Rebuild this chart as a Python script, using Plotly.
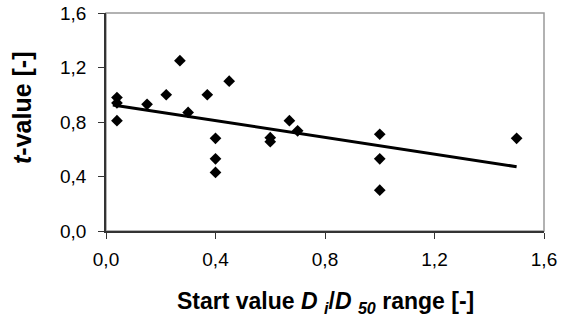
import plotly.graph_objects as go

x_vals = [0.04, 0.04, 0.04, 0.15, 0.22, 0.27, 0.30, 0.37, 0.40, 0.40, 0.40, 0.45,
          0.60, 0.60, 0.67, 0.70, 1.00, 1.00, 1.00, 1.50]
t_vals = [0.81, 0.94, 0.98, 0.93, 1.00, 1.25, 0.87, 1.00, 0.68, 0.53, 0.43, 1.10,
          0.685, 0.655, 0.81, 0.735, 0.71, 0.53, 0.30, 0.68]
trend_x = [0.025, 1.50]
trend_y = [0.925, 0.472]
tick_vals = [0.0, 0.4, 0.8, 1.2, 1.6]
tick_text = ["0,0", "0,4", "0,8", "1,2", "1,6"]

font = "Liberation Sans, Arial, sans-serif"

fig = go.Figure()
fig.add_trace(go.Scatter(x=x_vals, y=t_vals, mode="markers",
                         marker=dict(symbol="diamond", size=9, color="black"),
                         showlegend=False, cliponaxis=False))
fig.add_trace(go.Scatter(x=trend_x, y=trend_y, mode="lines",
                         line=dict(color="black", width=3), showlegend=False))

axis_common = dict(tickvals=tick_vals, ticktext=tick_text, range=[0, 1.6],
                   showgrid=False, zeroline=False, ticks="outside", ticklen=6,
                   tickcolor="#333", tickwidth=1, automargin=False,
                   showline=True, linecolor="#333", linewidth=1.5,
                   tickfont=dict(family=font, size=19, color="black"))

fig.update_xaxes(**axis_common, ticklabelstandoff=4)
fig.update_yaxes(**axis_common, ticklabelstandoff=8)

fig.update_layout(
    width=566, height=322,
    margin=dict(l=106, r=22, t=13, b=91),
    paper_bgcolor="white", plot_bgcolor="white",
    shapes=[dict(type="rect", xref="paper", yref="paper", x0=0, y0=0, x1=1, y1=1,
                 line=dict(color="#999", width=1.5), layer="below")],
    annotations=[
        dict(text="<b>Start value <i>D</i> <sub><i>i</i></sub>/<i>D</i> <sub><i>50</i></sub> range [-]</b>",
             xref="paper", yref="paper", x=0.5, y=0, yshift=-71,
             xanchor="center", yanchor="middle",
             showarrow=False, font=dict(family=font, size=23, color="black")),
        dict(text="<b><i>t</i>-value [-]</b>", xref="paper", yref="paper",
             x=0, xshift=-84, y=0.5, yshift=14, textangle=-90,
             xanchor="center", yanchor="middle",
             showarrow=False, font=dict(family=font, size=25, color="black")),
    ],
)

fig.write_html("out.html")
